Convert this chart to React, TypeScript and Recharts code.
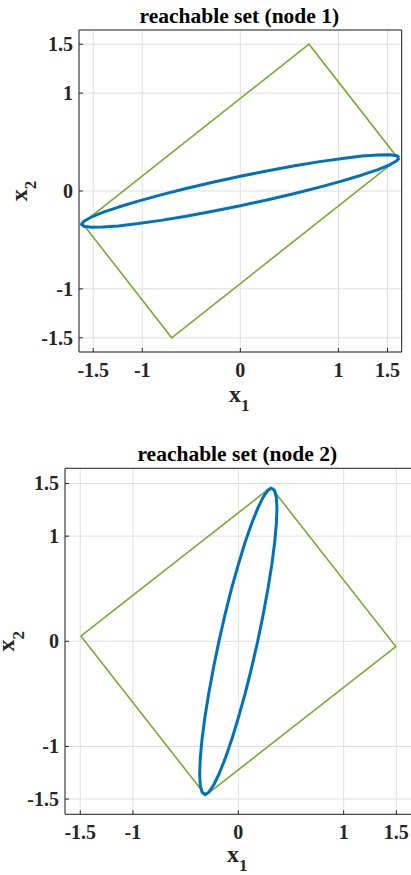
import { LineChart, Line, XAxis, YAxis, CartesianGrid, Label } from 'recharts'

type Pt = { x: number; y: number }

const axisTicks = [-1.5, -1, 0, 1, 1.5]
const axisDomain = [-1.645, 1.645]

// node 1: green box corners (closed) and blue ellipse
const node1Box: Pt[] = [
  { x: -1.61, y: -0.33 },
  { x: 0.7, y: 1.5 },
  { x: 1.61, y: 0.33 },
  { x: -0.7, y: -1.5 },
  { x: -1.61, y: -0.33 },
]

const node1Ellipse: Pt[] = [
  { x: 1.62, y: 0.34 }, { x: 1.595, y: 0.361 }, { x: 1.522, y: 0.371 },
  { x: 1.403, y: 0.369 }, { x: 1.241, y: 0.357 }, { x: 1.041, y: 0.333 },
  { x: 0.81, y: 0.3 }, { x: 0.554, y: 0.257 }, { x: 0.281, y: 0.207 },
  { x: 0, y: 0.15 }, { x: -0.281, y: 0.089 }, { x: -0.554, y: 0.025 },
  { x: -0.81, y: -0.04 }, { x: -1.041, y: -0.104 }, { x: -1.241, y: -0.164 },
  { x: -1.403, y: -0.219 }, { x: -1.522, y: -0.268 }, { x: -1.595, y: -0.309 },
  { x: -1.62, y: -0.34 }, { x: -1.595, y: -0.361 }, { x: -1.522, y: -0.371 },
  { x: -1.403, y: -0.369 }, { x: -1.241, y: -0.357 }, { x: -1.041, y: -0.333 },
  { x: -0.81, y: -0.3 }, { x: -0.554, y: -0.257 }, { x: -0.281, y: -0.207 },
  { x: 0, y: -0.15 }, { x: 0.281, y: -0.089 }, { x: 0.554, y: -0.025 },
  { x: 0.81, y: 0.04 }, { x: 1.041, y: 0.104 }, { x: 1.241, y: 0.164 },
  { x: 1.403, y: 0.219 }, { x: 1.522, y: 0.268 }, { x: 1.595, y: 0.309 },
  { x: 1.62, y: 0.34 },
]

// node 2
const node2Box: Pt[] = [
  { x: -1.495, y: 0.05 },
  { x: 0.31, y: 1.465 },
  { x: 1.495, y: -0.05 },
  { x: -0.31, y: -1.465 },
  { x: -1.495, y: 0.05 },
]

const node2Ellipse: Pt[] = [
  { x: 0.317, y: 1.457 }, { x: 0.344, y: 1.435 }, { x: 0.361, y: 1.369 },
  { x: 0.367, y: 1.262 }, { x: 0.361, y: 1.116 }, { x: 0.345, y: 0.937 },
  { x: 0.318, y: 0.729 }, { x: 0.281, y: 0.498 }, { x: 0.236, y: 0.253 },
  { x: 0.184, y: 0 }, { x: 0.126, y: -0.253 }, { x: 0.065, y: -0.498 },
  { x: 0, y: -0.729 }, { x: -0.063, y: -0.937 }, { x: -0.125, y: -1.116 },
  { x: -0.183, y: -1.262 }, { x: -0.235, y: -1.369 }, { x: -0.28, y: -1.435 },
  { x: -0.317, y: -1.457 }, { x: -0.344, y: -1.435 }, { x: -0.361, y: -1.369 },
  { x: -0.367, y: -1.262 }, { x: -0.361, y: -1.116 }, { x: -0.345, y: -0.937 },
  { x: -0.318, y: -0.729 }, { x: -0.281, y: -0.498 }, { x: -0.236, y: -0.253 },
  { x: -0.184, y: 0 }, { x: -0.126, y: 0.253 }, { x: -0.065, y: 0.498 },
  { x: 0, y: 0.729 }, { x: 0.063, y: 0.937 }, { x: 0.125, y: 1.116 },
  { x: 0.183, y: 1.262 }, { x: 0.235, y: 1.369 }, { x: 0.28, y: 1.435 },
  { x: 0.317, y: 1.457 },
]

const serif = "'Liberation Serif', 'Times New Roman', serif"
const axisColor = '#262626'

const bottomTick = (p: any) => (
  <text
    x={p.x}
    y={p.y + 24.5}
    textAnchor="middle"
    fontFamily={serif}
    fontWeight="bold"
    fontSize={20}
    fill={axisColor}
  >
    {p.payload.value}
  </text>
)

const leftTick = (p: any) => (
  <text
    x={p.x - 6}
    y={p.y + 6.8}
    textAnchor="end"
    fontFamily={serif}
    fontWeight="bold"
    fontSize={20}
    fill={axisColor}
  >
    {p.payload.value}
  </text>
)

function Panel({
  title,
  box,
  ellipse,
  width,
  height,
  left,
  top,
  bottom,
  right,
  xLabelGap,
  yLabelGap,
}: {
  title: string
  box: Pt[]
  ellipse: Pt[]
  width: number
  height: number
  left: number
  top: number
  bottom: number
  right: number
  xLabelGap: number
  yLabelGap: number
}) {
  const titleLabel = (props: any) => {
    const vb = props.viewBox
    return (
      <text
        x={vb.x + vb.width / 2 - 1}
        y={vb.y + vb.height - 7.5}
        textAnchor="middle"
        fontFamily={serif}
        fontWeight="bold"
        fontSize={21.5}
        fill="#000"
      >
        {title}
      </text>
    )
  }

  const xLabel = (props: any) => {
    const vb = props.viewBox
    return (
      <text
        x={vb.x + vb.width / 2 - 1}
        y={vb.y + xLabelGap}
        textAnchor="middle"
        fontFamily={serif}
        fontWeight="bold"
        fontSize={24}
        fill={axisColor}
      >
        x<tspan fontSize={17} dy={9.5}>1</tspan>
      </text>
    )
  }

  const yLabel = (props: any) => {
    const vb = props.viewBox
    const lx = vb.x + vb.width - yLabelGap
    const cy = vb.y + vb.height / 2
    return (
      <text
        x={lx}
        y={cy}
        transform={`rotate(-90, ${lx}, ${cy})`}
        textAnchor="middle"
        fontFamily={serif}
        fontWeight="bold"
        fontSize={24}
        fill={axisColor}
      >
        x<tspan fontSize={17} dy={9.5}>2</tspan>
      </text>
    )
  }

  return (
    <LineChart
      width={width}
      height={height}
      margin={{ top: 0, right: right, bottom: 0, left: 0 }}
    >
      <CartesianGrid stroke="#dfdfdf" />
      <XAxis
        type="number"
        dataKey="x"
        domain={axisDomain}
        ticks={axisTicks}
        interval={0}
        allowDataOverflow
        height={bottom}
        stroke={axisColor}
        tickSize={-4}
        tickMargin={4}
        tick={bottomTick}
      >
        <Label content={xLabel} />
      </XAxis>
      <XAxis
        xAxisId="t"
        orientation="top"
        type="number"
        dataKey="x"
        domain={axisDomain}
        ticks={axisTicks}
        interval={0}
        allowDataOverflow
        height={top}
        stroke={axisColor}
        tickSize={-4}
        tick={false}
      >
        <Label content={titleLabel} />
      </XAxis>
      <YAxis
        type="number"
        dataKey="y"
        domain={axisDomain}
        ticks={axisTicks}
        interval={0}
        allowDataOverflow
        width={left}
        stroke={axisColor}
        tickSize={-4}
        tickMargin={4}
        tick={leftTick}
      >
        <Label content={yLabel} />
      </YAxis>
      <YAxis
        yAxisId="r"
        orientation="right"
        type="number"
        dataKey="y"
        domain={axisDomain}
        ticks={axisTicks}
        interval={0}
        allowDataOverflow
        width={1}
        stroke={axisColor}
        tickSize={-4}
        tick={false}
      />
      <Line
        data={box}
        dataKey="y"
        type="linear"
        stroke="#77ac30"
        strokeWidth={1.6}
        dot={false}
        activeDot={false}
        isAnimationActive={false}
      />
      <Line
        data={ellipse}
        dataKey="y"
        type="linear"
        stroke="#0072bd"
        strokeWidth={3}
        strokeLinejoin="round"
        dot={false}
        activeDot={false}
        isAnimationActive={false}
      />
    </LineChart>
  )
}

export default function App() {
  return (
    <div
      style={{
        position: 'absolute',
        left: 0,
        top: 0,
        width: 411,
        height: 875,
        overflow: 'hidden',
        background: '#fff',
      }}
    >
      <div style={{ position: 'absolute', left: 0, top: 0 }}>
        <Panel
          title="reachable set (node 1)"
          box={node1Box}
          ellipse={node1Ellipse}
          width={411}
          height={420}
          left={79}
          top={30}
          bottom={68}
          right={8.3}
          xLabelGap={49.5}
          yLabelGap={52.5}
        />
      </div>
      <div style={{ position: 'absolute', left: 0, top: 430 }}>
        <Panel
          title="reachable set (node 2)"
          box={node2Box}
          ellipse={node2Ellipse}
          width={413}
          height={445}
          left={65}
          top={38.3}
          bottom={60.7}
          right={0.4}
          xLabelGap={47.5}
          yLabelGap={50.5}
        />
      </div>
    </div>
  )
}
